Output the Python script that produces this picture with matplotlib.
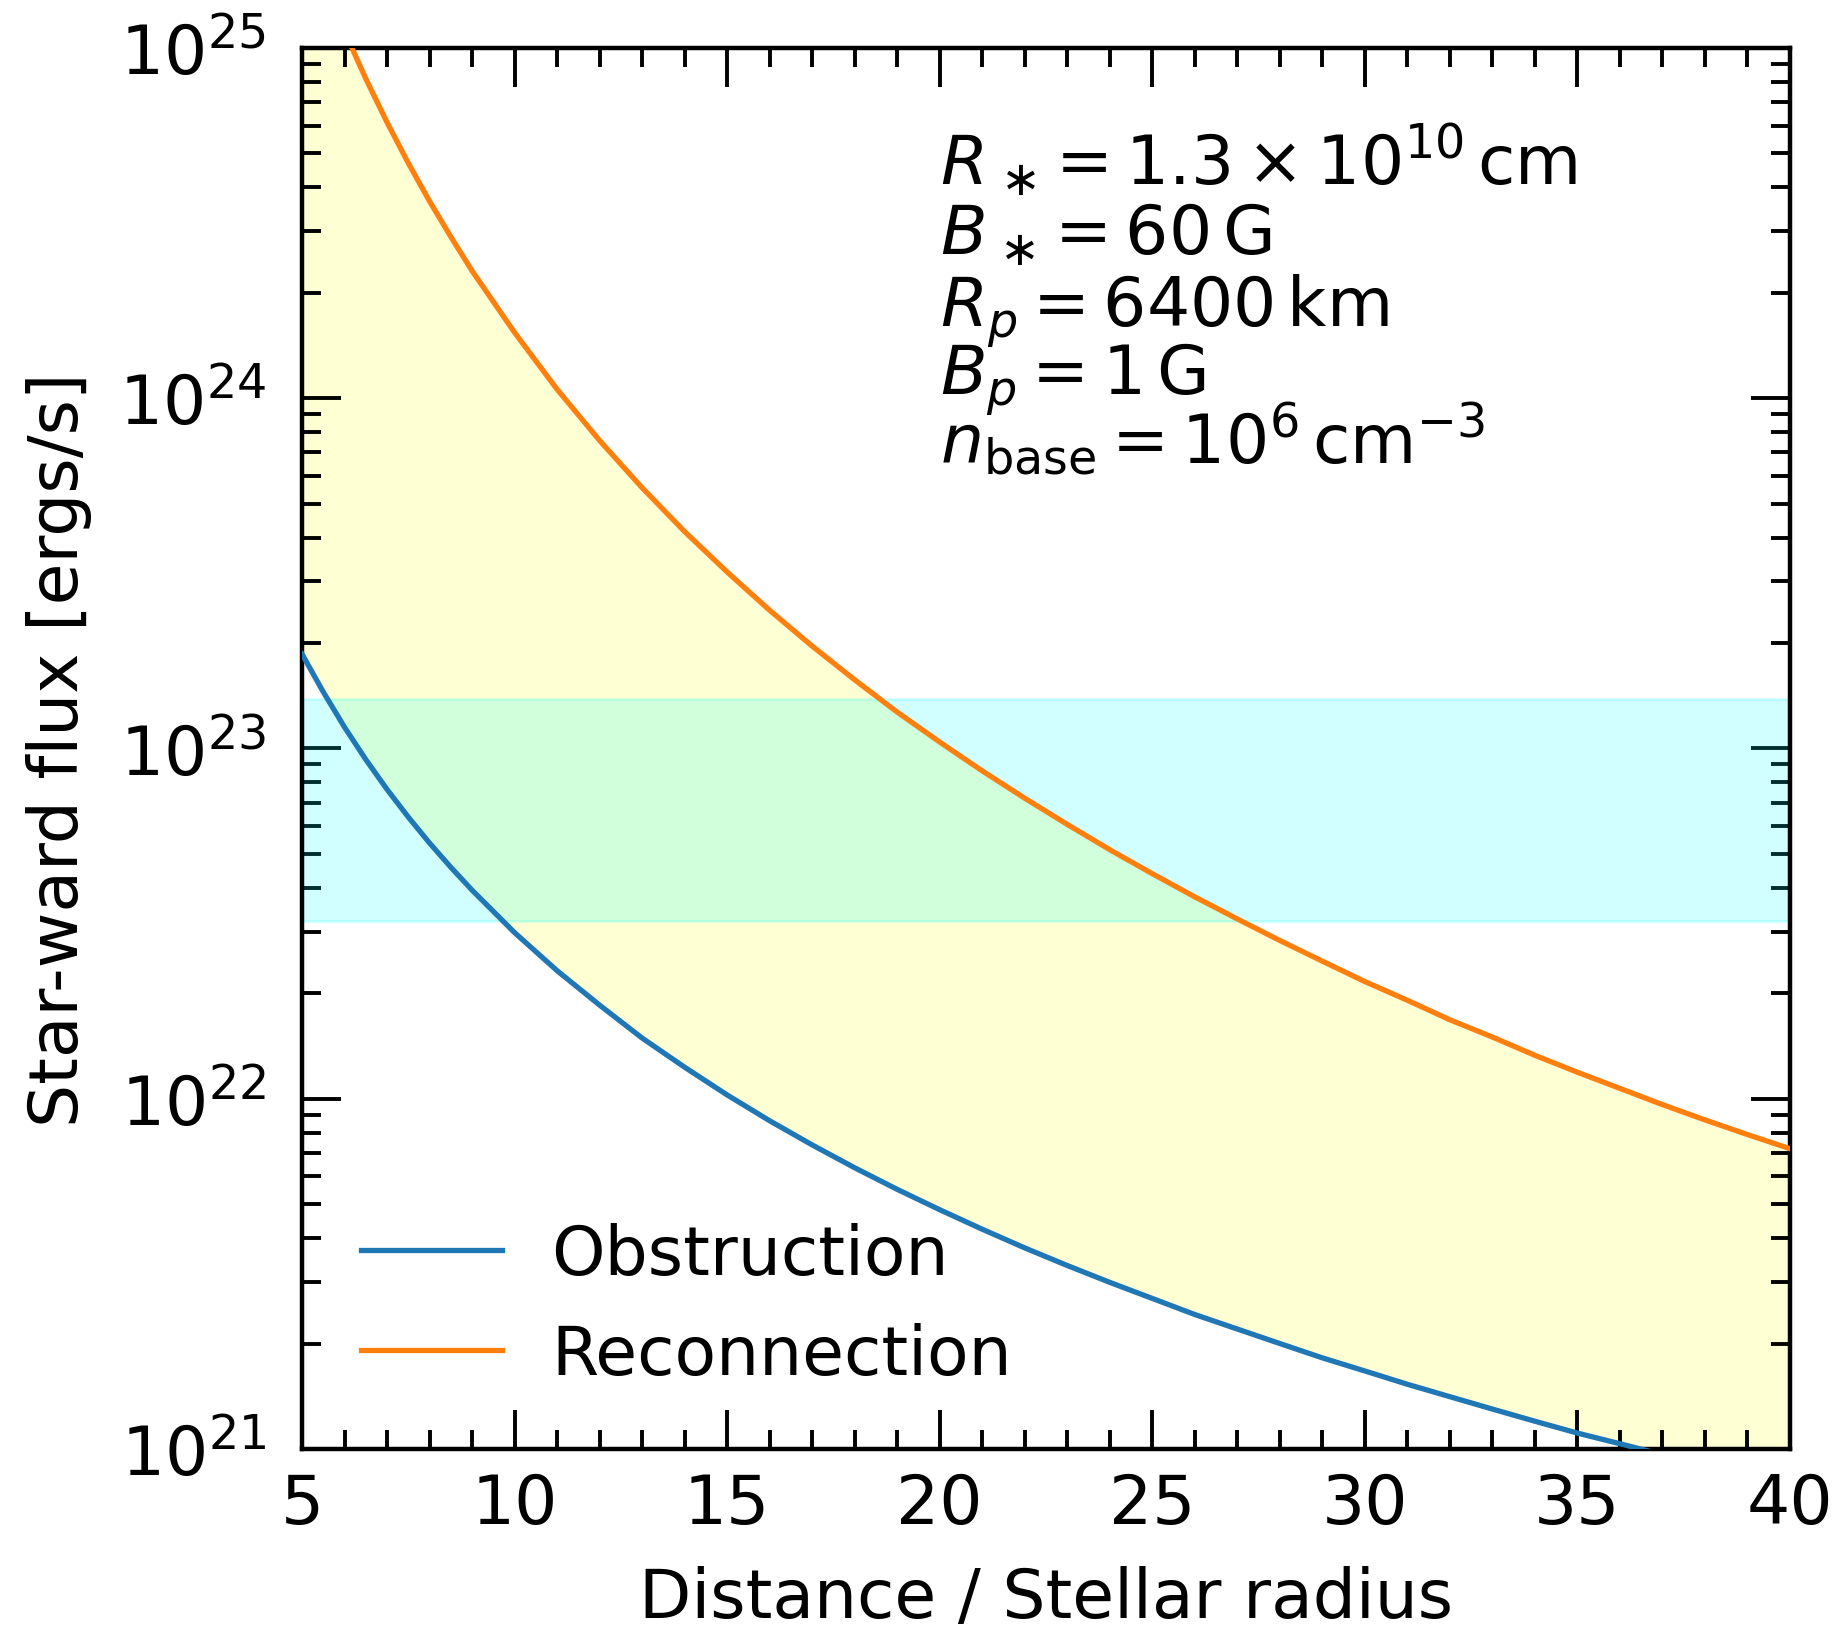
import matplotlib
matplotlib.use("Agg")
import matplotlib.pyplot as plt
from matplotlib.ticker import MultipleLocator, LogLocator, NullFormatter

# ---- data ----
distance = [5, 5.5, 6, 6.5, 7, 7.5, 8, 8.5, 9, 10, 11, 12, 13, 14, 15, 16, 17, 18, 19,
            20, 21, 22, 23, 24, 25, 26, 27, 28, 29, 30, 31, 32, 33, 34, 35, 36, 37, 38,
            39, 40]
obstruction = [1.86e23, 1.45e23, 1.15e23, 9.30e22, 7.64e22, 6.37e22, 5.37e22, 4.58e22,
               3.94e22, 2.98e22, 2.32e22, 1.85e22, 1.49e22, 1.23e22, 1.025e22, 8.65e21,
               7.38e21, 6.35e21, 5.51e21, 4.82e21, 4.24e21, 3.75e21, 3.34e21, 2.99e21,
               2.69e21, 2.42e21, 2.20e21, 2.00e21, 1.82e21, 1.67e21, 1.53e21, 1.41e21,
               1.30e21, 1.20e21, 1.11e21, 1.035e21, 9.64e20, 8.99e20, 8.40e20, 7.86e20]
reconnection = [2.26e25, 1.56e25, 1.115e25, 8.17e24, 6.13e24, 4.69e24, 3.65e24, 2.89e24,
                2.31e24, 1.54e24, 1.06e24, 7.57e23, 5.55e23, 4.16e23, 3.19e23, 2.48e23,
                1.96e23, 1.57e23, 1.27e23, 1.043e23, 8.63e22, 7.21e22, 6.07e22, 5.14e22,
                4.39e22, 3.77e22, 3.26e22, 2.83e22, 2.47e22, 2.16e22, 1.91e22, 1.68e22,
                1.50e22, 1.33e22, 1.19e22, 1.07e22, 9.62e21, 8.70e21, 7.90e21, 7.20e21]
band_low, band_high = 3.22e22, 1.38e23

param_lines = [
    r'$R_{\;∗} = 1.3\times10^{10}\,\mathrm{cm}$',
    r'$B_{\;∗} = 60\,\mathrm{G}$',
    r'$R_p = 6400\,\mathrm{km}$',
    r'$B_p = 1\,\mathrm{G}$',
    r'$n_\mathrm{base} = 10^{6}\,\mathrm{cm}^{-3}$',
]

FS = 49
plt.rcParams['font.family'] = 'DejaVu Sans'
plt.rcParams['mathtext.fontset'] = 'dejavusans'

fig = plt.figure(figsize=(18.37, 16.31), dpi=100)
ax = fig.add_axes([0.1644, 0.1110, 0.8100, 0.8590])

ax.fill_between(distance, obstruction, reconnection, color='yellow', alpha=0.17, lw=0, zorder=1)
ax.axhspan(band_low, band_high, facecolor='cyan', edgecolor='cyan', alpha=0.18, lw=2, zorder=2)
ax.plot(distance, obstruction, color='#1f77b4', lw=3.8, label='Obstruction', zorder=3)
ax.plot(distance, reconnection, color='#ff7f0e', lw=3.8, label='Reconnection', zorder=3)

ax.set_yscale('log')
ax.set_xlim(5, 40)
ax.set_ylim(1e21, 1e25)
ax.xaxis.set_major_locator(MultipleLocator(5))
ax.xaxis.set_minor_locator(MultipleLocator(1))
ax.yaxis.set_major_locator(LogLocator(base=10, numticks=10))
ax.yaxis.set_minor_locator(LogLocator(base=10, subs=range(2, 10), numticks=50))
ax.yaxis.set_minor_formatter(NullFormatter())

ax.tick_params(which='both', direction='in', top=True, right=True, labelsize=FS)
ax.tick_params(which='major', length=28, width=2.8)
ax.tick_params(which='minor', length=14, width=2.8)
ax.tick_params(axis='x', which='major', pad=16)
ax.tick_params(axis='y', which='major', pad=26)
for sp in ax.spines.values():
    sp.set_linewidth(3.2)

ax.set_xlabel('Distance / Stellar radius', fontsize=FS)
ax.set_ylabel('Star-ward flux [ergs/s]', fontsize=FS)
ax.xaxis.set_label_coords(0.5, -0.083)
ax.yaxis.set_label_coords(-0.141, 0.5)

ys = [0.9029, 0.8530, 0.8018, 0.7530, 0.7043]
for t, y in zip(param_lines, ys):
    ax.text(0.4288, y, t, transform=ax.transAxes, fontsize=FS, ha='left', va='baseline')

ax.legend(loc='center left', bbox_to_anchor=(0.0397, 0.103), frameon=False, fontsize=FS,
          handlelength=2.07, handletextpad=0.72, labelspacing=0.5, borderpad=0,
          borderaxespad=0)

fig.savefig('out.png', dpi=100)
